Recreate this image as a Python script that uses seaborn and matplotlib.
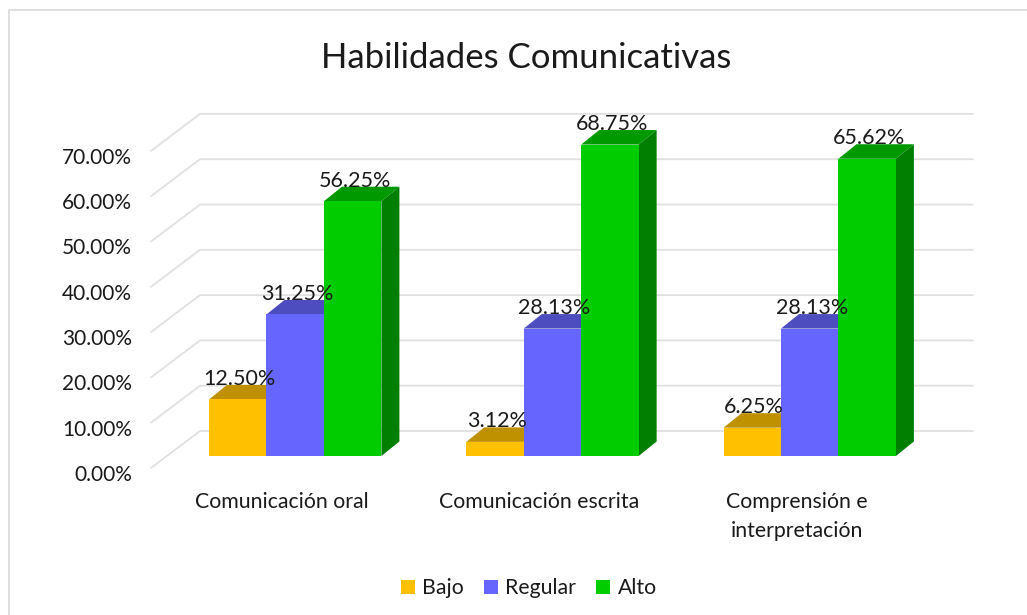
import matplotlib
matplotlib.use("Agg")
import matplotlib.pyplot as plt
from matplotlib.lines import Line2D
from matplotlib.patches import Polygon
import pandas as pd
import seaborn as sns

# Datos
categorias = ["Comunicación oral", "Comunicación escrita", "Comprensión e\ninterpretación"]
bajo = [12.50, 3.12, 6.25]
regular = [31.25, 28.13, 28.13]
alto = [56.25, 68.75, 65.62]
niveles = ["Bajo", "Regular", "Alto"]
ticks_y = [0, 10, 20, 30, 40, 50, 60, 70]

colores = {"Bajo": "#FFC000", "Regular": "#6666FF", "Alto": "#00CC00"}
colores_techo = ["#BF9000", "#4D4DBF", "#009900"]
colores_lado = ["#997300", "#3D3D99", "#007F00"]

W, H = 1027, 615
PX_CAT = 257.25   # pixeles por categoria
PX_PCT = 4.53     # pixeles por punto porcentual
PROF_X, PROF_Y = 18, 14.5   # profundidad de cada barra

df = pd.DataFrame({
    "categoria": categorias * 3,
    "nivel": [n for n in niveles for _ in categorias],
    "valor": bajo + regular + alto,
})

sns.set_style("white")
plt.rcParams["font.family"] = ["Lato", "DejaVu Sans"]

fig = plt.figure(figsize=(W / 100, H / 100), dpi=100)
ax = fig.add_axes([166.6 / W, (H - 456) / H, 771.75 / W, 70 * PX_PCT / H])
sns.barplot(data=df, x="categoria", y="valor", hue="nivel", hue_order=niveles,
            palette=colores, width=0.67, gap=0, saturation=1, ax=ax, zorder=5,
            errorbar=None, linewidth=0, edgecolor="none")
handles, labels = ax.get_legend_handles_labels()
ax.get_legend().remove()
ax.set_xlim(-0.5, 2.5)
ax.set_ylim(0, 70)

# Rejilla con aspecto 3D
for v in ticks_y:
    ax.plot([-0.5 - 15.6 / PX_CAT, -0.5 + 33.4 / PX_CAT, 2.5 + 34.6 / PX_CAT],
            [v - 12 / PX_PCT, v + 25 / PX_PCT, v + 25 / PX_PCT],
            color="#E0E0E0", lw=1.3, clip_on=False, zorder=1)
    ax.annotate(f"{v:.2f}%", (-0.5, v), xytext=(-34.6, -19), textcoords="offset pixels",
                ha="right", va="center", fontsize=15, color="#1a1a1a", annotation_clip=False)

# Techo y lado de cada barra, y etiquetas
dx, dy = PROF_X / PX_CAT, PROF_Y / PX_PCT
for k, cont in enumerate(ax.containers):
    for p in cont:
        x0, x1, h = p.get_x(), p.get_x() + p.get_width(), p.get_height()
        ax.add_patch(Polygon([(x0, h), (x1, h), (x1 + dx, h + dy), (x0 + dx, h + dy)],
                             fc=colores_techo[k], ec="none", clip_on=False, zorder=3))
        ax.add_patch(Polygon([(x1, 0), (x1 + dx, dy), (x1 + dx, h + dy), (x1, h)],
                             fc=colores_lado[k], ec="none", clip_on=False, zorder=3))
        ax.annotate(f"{h:.2f}%", ((x0 + x1) / 2, h), xytext=(2, 20.5), textcoords="offset pixels",
                    ha="center", va="center", fontsize=15.5, color="#1a1a1a",
                    zorder=8, annotation_clip=False)

# Etiquetas de categoria (sobre el plano frontal)
for i, cat in enumerate(categorias):
    ax.annotate(cat, (i, 0), xytext=(-13, -36.5), textcoords="offset pixels",
                ha="center", va="top", fontsize=15.3, color="#1a1a1a",
                linespacing=1.54, annotation_clip=False)

ax.set_axis_off()

fig.text(526 / W, (H - 58) / H, "Habilidades Comunicativas", ha="center", va="center",
         fontsize=25, color="#1a1a1a")
fig.legend(handles, labels, loc="center", bbox_to_anchor=(529 / W, (H - 588.5) / H), ncol=3,
           frameon=False, fontsize=15.3, handlelength=0.66, handleheight=0.66, handletextpad=0.33,
           columnspacing=0.95, labelcolor="#1a1a1a")

# Borde del grafico: solo arriba y a la izquierda
fig.add_artist(Line2D([9 / W, 9 / W, 1], [0, (H - 10) / H, (H - 10) / H],
                      transform=fig.transFigure, color="#D9D9D9", lw=1.2))

fig.savefig("out.png", dpi=100)
